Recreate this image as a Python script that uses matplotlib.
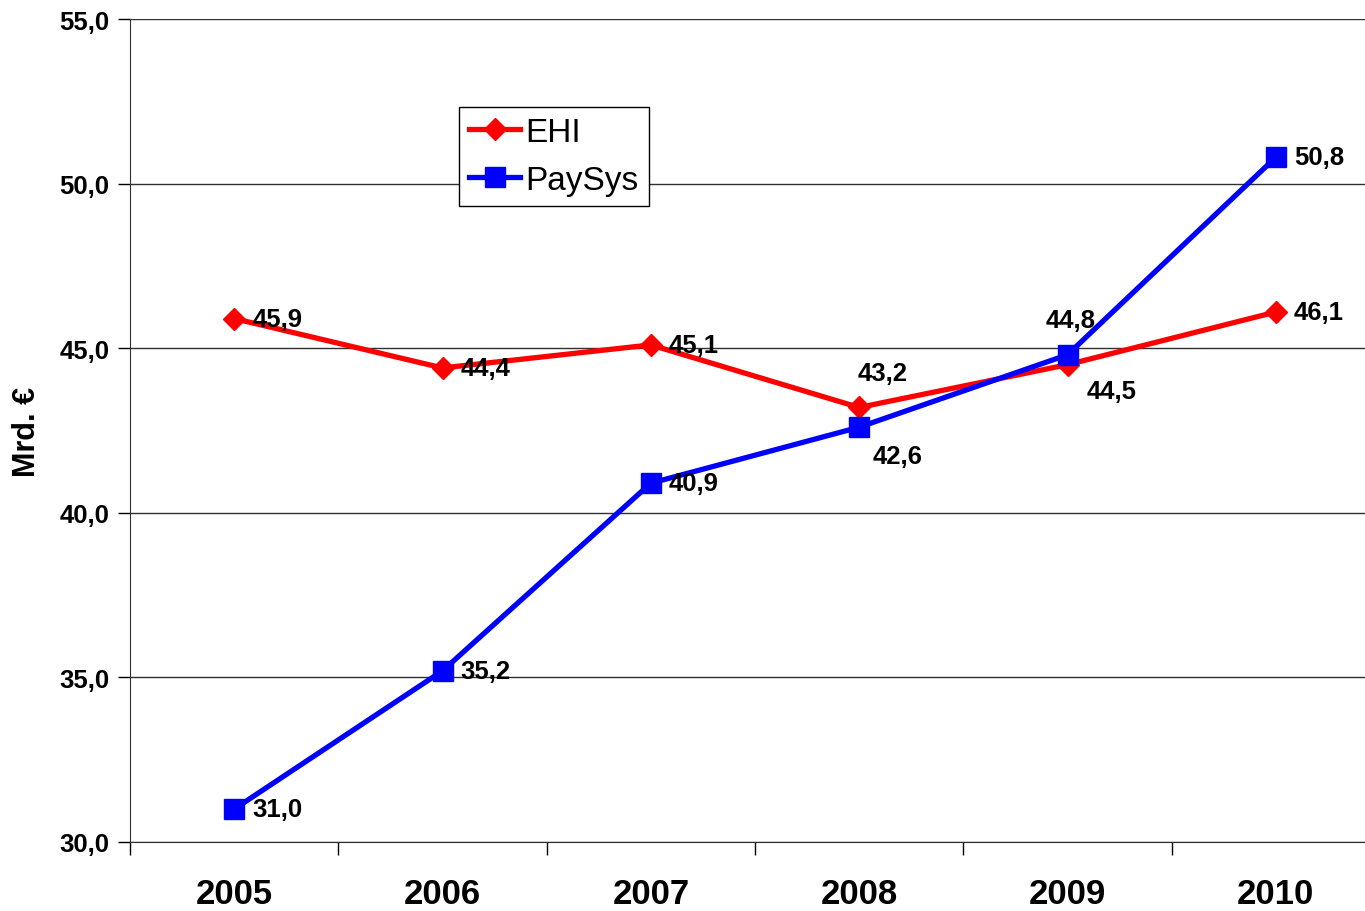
import matplotlib
matplotlib.use('Agg')
import matplotlib.pyplot as plt

years = ['2005', '2006', '2007', '2008', '2009', '2010']
ehi = [45.9, 44.4, 45.1, 43.2, 44.5, 46.1]
paysys = [31.0, 35.2, 40.9, 42.6, 44.8, 50.8]

# label offsets in points (dx, dy, ha)
ehi_off = [(13, 0, 'left'), (13, 0, 'left'), (13, 0, 'left'),
           (17, 25, 'center'), (32, -19, 'center'), (13, 0, 'left')]
pay_off = [(13, 0, 'left'), (13, 0, 'left'), (13, 0, 'left'),
           (28, -21, 'center'), (2, 25, 'center'), (13, 0, 'left')]

plt.rcParams['font.family'] = ['Liberation Sans', 'DejaVu Sans']


def fmt(v):
    return ('%.1f' % v).replace('.', ',')


fig = plt.figure(figsize=(13.65, 9.12), dpi=100)
ax = fig.add_axes([130 / 1365, 69 / 912, 1250 / 1365, 823 / 912])

x = list(range(len(years)))
ax.plot(x, ehi, color='#ff0000', lw=3.8, marker='D', markersize=11,
        label='EHI', zorder=3)
ax.plot(x, paysys, color='#0000ff', lw=3.8, marker='s', markersize=14,
        label='PaySys', zorder=4)

for i in x:
    for vals, offs in ((ehi, ehi_off), (paysys, pay_off)):
        dx, dy, ha = offs[i]
        ax.annotate(fmt(vals[i]), (i, vals[i]), xytext=(dx, dy),
                    textcoords='offset points', ha=ha, va='center',
                    fontsize=18.5, fontweight='bold', zorder=5)

ax.set_xlim(-0.5, 5.5)
ax.set_ylim(30, 55)
ax.set_yticks([30, 35, 40, 45, 50, 55])
ax.set_yticklabels([fmt(v) for v in [30, 35, 40, 45, 50, 55]],
                   fontsize=18.5, fontweight='bold')
ax.set_xticks(x)
ax.set_xticklabels(years, fontsize=25, fontweight='bold')
ax.set_xticks([i - 0.5 for i in range(7)], minor=True)
ax.tick_params(axis='x', which='major', length=0, pad=25)
ax.tick_params(axis='x', which='minor', length=9, width=1, direction='out')
ax.tick_params(axis='y', length=9, width=1, direction='out', pad=6)

ax.grid(axis='y', color='#303030', lw=1)
ax.set_axisbelow(True)
ax.spines['top'].set_visible(False)
ax.spines['right'].set_visible(False)
ax.spines['left'].set_color('#303030')
ax.spines['bottom'].set_color('#303030')

ax.set_ylabel('Mrd. €', fontsize=22, fontweight='bold', labelpad=12)

leg = ax.legend(loc='upper left', bbox_to_anchor=(0.263, 0.893), fontsize=24,
                fancybox=False, framealpha=1, edgecolor='black',
                handlelength=1.55, handletextpad=0.15, borderpad=0.3,
                labelspacing=0.5, borderaxespad=0)
leg.get_frame().set_linewidth(1)

fig.savefig('out.png', dpi=100)
